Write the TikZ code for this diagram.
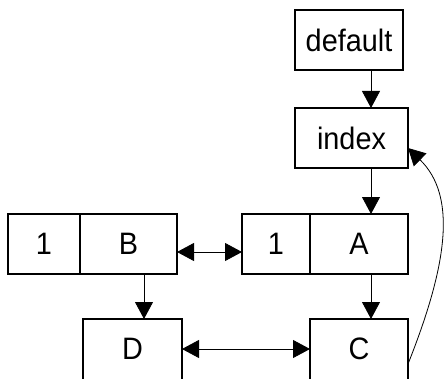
\documentclass[tikz,border=0pt]{standalone}
\usepackage{fontspec}
\newfontfamily\lab[FakeStretch=0.93]{Liberation Sans}
\usetikzlibrary{arrows.meta}
\begin{document}
\begin{tikzpicture}[x=1pt,y=-1pt,
  box/.style={draw, line width=1.1pt, inner sep=0pt, outer sep=0pt, minimum height=60pt,
    font=\lab\fontsize{31}{36}\selectfont},
  lbl/.style={inner sep=0pt, font=\lab\fontsize{31}{36}\selectfont},
  conn/.style={line width=0.8pt, -{Triangle[length=17pt,width=18pt]}},
  bconn/.style={line width=0.8pt, {Triangle[length=17pt,width=18pt]}-{Triangle[length=17pt,width=18pt]}}]
\useasboundingbox (0,0) rectangle (446,379);
\clip (0,0) rectangle (446,379);
\node[box, minimum width=108pt] (default) at (349,40) {default};
\node[box, minimum width=113pt] (index) at (351.5,138) {index};
\node[box, minimum width=72pt] (B1) at (44,244) {1};
\node[box, minimum width=97pt] (B) at (128.5,244) {B};
\node[box, minimum width=68pt] (A1) at (276,244) {1};
\node[box, minimum width=98pt] (A) at (359,244) {A};
\node[box, minimum width=99pt, minimum height=62pt] (D) at (132.5,350) {};
\node[lbl] at (D.center |- 0,349) (Dt) {D};
\node[box, minimum width=98pt, minimum height=62pt] (C) at (359,350) {};
\node[lbl] at (C.center |- 0,349) (Ct) {C};
\coordinate (ax) at (371,0);
\coordinate (bx) at (144,0);
\draw[conn] (default.south -| ax) -- (index.north -| ax);
\draw[conn] (index.south -| ax) -- (A.north -| ax);
\draw[conn] (A.south -| ax) -- (C.north -| ax);
\draw[conn] (B.south -| bx) -- (D.north -| bx);
\draw[bconn] ([yshift=-8pt]B.east) -- ([yshift=-8pt]A1.west);
\draw[bconn] ([yshift=1pt]D.east) -- ([yshift=1pt]C.west);
\draw[conn] ([yshift=-14pt]C.east) .. controls +(41,-103) and +(48,47) .. ([yshift=-10pt]index.east);
\end{tikzpicture}
\end{document}
